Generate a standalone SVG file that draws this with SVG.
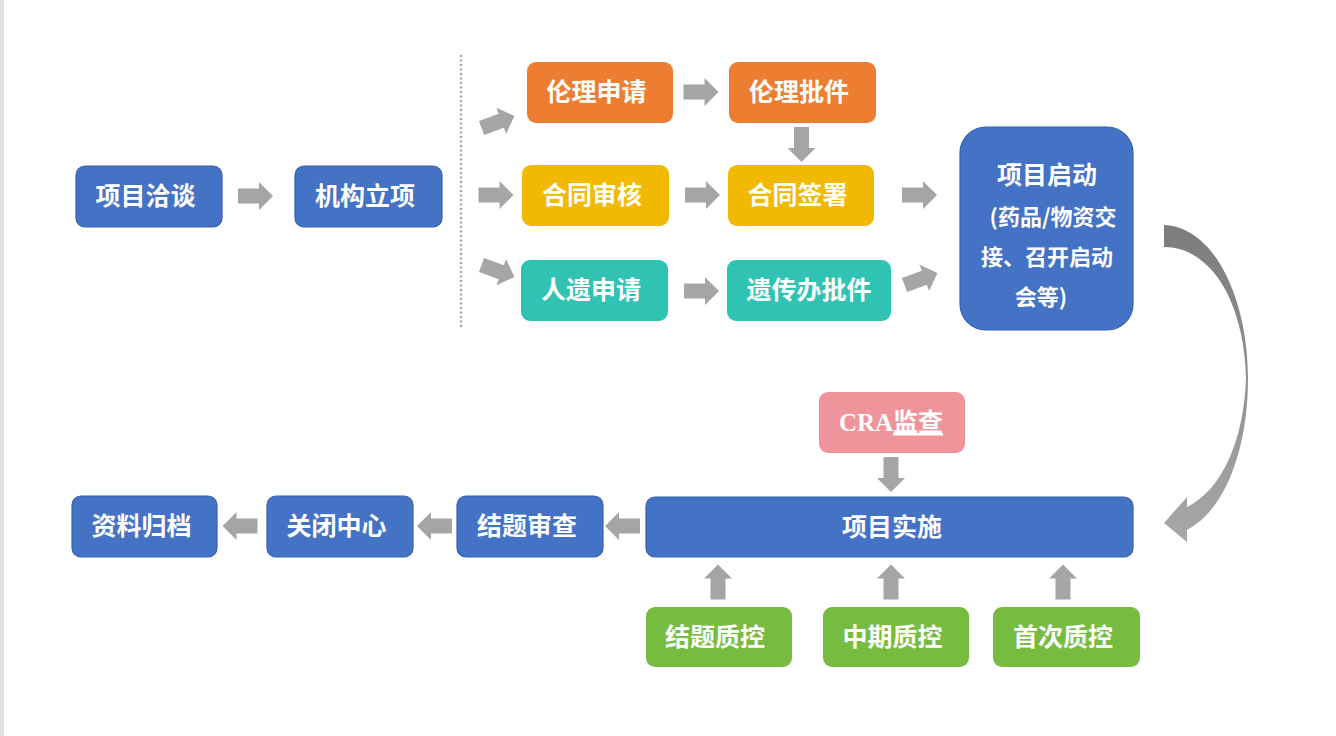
<svg xmlns="http://www.w3.org/2000/svg" width="1336" height="736" viewBox="0 0 1336 736">
  <defs>
    <style>
      .blue{fill:#4472C4;stroke:#3560AE;stroke-width:1.2}
      .orange{fill:#ED7D31}
      .yellow{fill:#F1B902}
      .teal{fill:#30C3B3}
      .pink{fill:#F0949C}
      .green{fill:#77BC41}
      .lbl{font-family:"Noto Sans CJK SC","Noto Sans",sans-serif;font-weight:bold;font-size:25px;fill:#FFFFFF;text-anchor:middle}
      .sub{font-size:22px}
      .arr{fill:#A5A5A5}
    </style>
    <path id="ar" d="M-17.5,-7.5 H3.5 V-14 L17.5,0 L3.5,14 V7.5 H-17.5 Z"/>
    <linearGradient id="cg" gradientUnits="userSpaceOnUse" x1="0" y1="225" x2="0" y2="545">
      <stop offset="0" stop-color="#7C7C7C"/>
      <stop offset="1" stop-color="#A8A8A8"/>
    </linearGradient>
  </defs>
  <rect x="0" y="0" width="1336" height="736" fill="#FFFFFF"/>
  <rect x="0" y="0" width="4" height="736" fill="#E2E2E2"/>
  <line x1="461" y1="56" x2="461" y2="328" stroke="#A6A6A6" stroke-width="2.5" stroke-linecap="round" stroke-dasharray="0 4.5"/>

  <g id="connectors" class="arr">
    <use href="#ar" transform="translate(255.5,196)"/>
    <use href="#ar" transform="translate(498,122) rotate(-20)"/>
    <use href="#ar" transform="translate(496,195)"/>
    <use href="#ar" transform="translate(498,271) rotate(20)"/>
    <use href="#ar" transform="translate(701,92)"/>
    <use href="#ar" transform="translate(801.5,144.5) rotate(90)"/>
    <use href="#ar" transform="translate(702.5,195)"/>
    <use href="#ar" transform="translate(701.5,291)"/>
    <use href="#ar" transform="translate(919.5,195)"/>
    <use href="#ar" transform="translate(921,279) rotate(-20)"/>
    <use href="#ar" transform="translate(891,474.5) rotate(90)"/>
    <use href="#ar" transform="translate(622.5,526) rotate(180)"/>
    <use href="#ar" transform="translate(434.5,526) rotate(180)"/>
    <use href="#ar" transform="translate(240,526) rotate(180)"/>
    <use href="#ar" transform="translate(718,582) rotate(-90)"/>
    <use href="#ar" transform="translate(891,582) rotate(-90)"/>
    <use href="#ar" transform="translate(1063,582) rotate(-90)"/>
    <path d="M1164,225 C1215,227 1248,300 1248,378 C1248,450 1225,510 1187,530 L1187,542 L1164,523 L1187,497 L1187,507 C1222,490 1244,440 1246,378 C1244,300 1210,247 1164,247 Z" fill="url(#cg)"/>
  </g>

  <g id="n-qiatan"><rect class="blue" x="76" y="166" width="146" height="61" rx="9"/><text class="lbl" x="145.5" y="205">项目洽谈</text></g>
  <g id="n-lixiang"><rect class="blue" x="295" y="166" width="147" height="61" rx="9"/><text class="lbl" x="365" y="205">机构立项</text></g>
  <g id="n-lunlisq"><rect class="orange" x="527" y="62" width="146" height="61" rx="9"/><text class="lbl" x="596.5" y="101">伦理申请</text></g>
  <g id="n-lunlipj"><rect class="orange" x="729" y="62" width="147" height="61" rx="9"/><text class="lbl" x="799" y="101">伦理批件</text></g>
  <g id="n-htsh"><rect class="yellow" x="522" y="165" width="147" height="61" rx="9"/><text class="lbl" x="592" y="204">合同审核</text></g>
  <g id="n-htqs"><rect class="yellow" x="728" y="165" width="146" height="61" rx="9"/><text class="lbl" x="797.5" y="204">合同签署</text></g>
  <g id="n-rysq"><rect class="teal" x="521" y="260" width="147" height="61" rx="9"/><text class="lbl" x="591" y="299">人遗申请</text></g>
  <g id="n-ycbpj"><rect class="teal" x="727" y="260" width="164" height="61" rx="9"/><text class="lbl" x="809" y="299">遗传办批件</text></g>
  <g id="n-qidong"><rect class="blue" x="960" y="127" width="173" height="203" rx="26"/>
    <text class="lbl" x="1047" y="184">项目启动</text>
    <text class="lbl sub" x="1053" y="225"> (药品/物资交</text>
    <text class="lbl sub" x="1047" y="265">接、召开启动</text>
    <text class="lbl sub" x="1041" y="305">会等)</text>
  </g>
  <g id="n-cra"><rect class="pink" x="819" y="392" width="146" height="61" rx="9"/><text class="lbl" x="891" y="431"><tspan font-family="'Liberation Serif',serif" font-size="25px">CRA</tspan><tspan text-decoration="underline">监查</tspan></text></g>
  <g id="n-shishi"><rect class="blue" x="646" y="497" width="487" height="60" rx="9"/><text class="lbl" x="892" y="536">项目实施</text></g>
  <g id="n-jtsc"><rect class="blue" x="457" y="496" width="146" height="61" rx="9"/><text class="lbl" x="527" y="535">结题审查</text></g>
  <g id="n-gbzx"><rect class="blue" x="267" y="496" width="146" height="61" rx="9"/><text class="lbl" x="336.5" y="535">关闭中心</text></g>
  <g id="n-zlgd"><rect class="blue" x="72" y="496" width="145" height="61" rx="9"/><text class="lbl" x="141.5" y="535">资料归档</text></g>
  <g id="n-jtzk"><rect class="green" x="646" y="607" width="146" height="60" rx="9"/><text class="lbl" x="715" y="646">结题质控</text></g>
  <g id="n-zqzk"><rect class="green" x="823" y="607" width="146" height="60" rx="9"/><text class="lbl" x="892.5" y="646">中期质控</text></g>
  <g id="n-sczk"><rect class="green" x="993" y="607" width="147" height="60" rx="9"/><text class="lbl" x="1063" y="646">首次质控</text></g>
</svg>
